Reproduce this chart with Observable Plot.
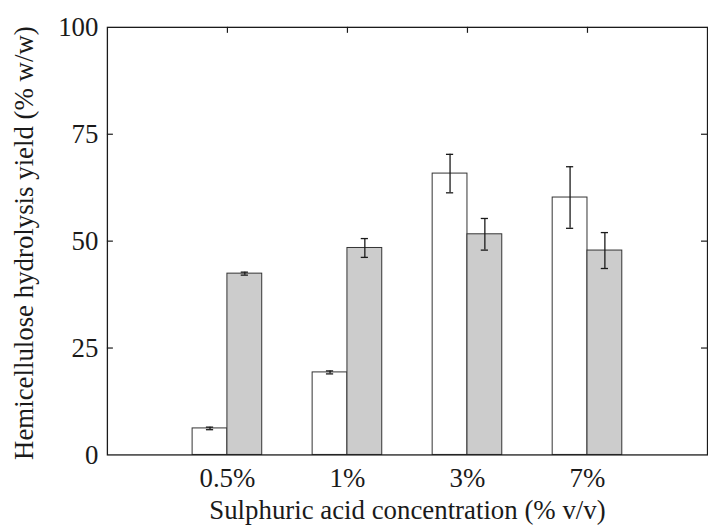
<!DOCTYPE html>
<html>
<head>
<meta charset="utf-8">
<script src="https://cdn.jsdelivr.net/npm/d3@7"></script>
<script src="https://cdn.jsdelivr.net/npm/@observablehq/plot@0.6"></script>
<style>
  html, body { margin: 0; padding: 0; background: #fff; overflow: hidden; }
  #chart { width: 708px; height: 531px; overflow: hidden; }
  #chart svg, #chart svg text { font-family: "Liberation Serif", "Times New Roman", "DejaVu Serif", serif !important; }
</style>
</head>
<body>
<div id="chart"></div>
<script>
// ---- data ----
const categories = ["0.5%", "1%", "3%", "7%"];
const seriesA = [6.2, 19.3, 65.8, 60.2];   // white bars
const errA    = [0.3, 0.35, 4.5, 7.2];
const seriesB = [42.4, 48.4, 51.6, 47.8];  // grey bars
const errB    = [0.35, 2.2, 3.7, 4.2];
const yTicks = [0, 25, 50, 75, 100];
const xTitle = "Sulphuric acid concentration (% v/v)";
const yTitle = "Hemicellulose hydrolysis yield (% w/w)";

// ---- derived table ----
const barW = 0.29;   // bar width in group units
const capW = 0.03;   // half-width of error caps
const groups = categories.map((c, i) => ({cat: c, g: i + 1}));
const bars = [];
categories.forEach((c, i) => {
  const g = i + 1;
  bars.push({cat: c, s: "A", x1: g - barW, x2: g, xc: g - barW / 2, v: seriesA[i], e: errA[i]});
  bars.push({cat: c, s: "B", x1: g, x2: g + barW, xc: g + barW / 2, v: seriesB[i], e: errB[i]});
});
const inner = yTicks.filter(t => t > 0 && t < 100);
const font = "Liberation Serif";
const ink = "#1a1a1a";

const chart = Plot.plot({
  width: 712,
  height: 531,
  marginLeft: 107.5,
  marginRight: 1,
  marginTop: 27,
  marginBottom: 74,
  style: {fontFamily: font, color: ink, background: "#fff"},
  x: {domain: [0, 5], axis: null},
  y: {domain: [0, 100], axis: null},
  marks: [
    Plot.rect(bars, {
      x1: "x1", x2: "x2", y1: 0, y2: "v",
      fill: d => d.s === "A" ? "#ffffff" : "#cccccc",
      stroke: "#333", strokeWidth: 1
    }),
    // error bars
    Plot.ruleX(bars, {x: "xc", y1: d => d.v - d.e, y2: d => d.v + d.e, stroke: ink, strokeWidth: 1.3}),
    Plot.ruleY(bars, {y: d => d.v + d.e, x1: d => d.xc - capW, x2: d => d.xc + capW, stroke: ink, strokeWidth: 1.3}),
    Plot.ruleY(bars, {y: d => d.v - d.e, x1: d => d.xc - capW, x2: d => d.xc + capW, stroke: ink, strokeWidth: 1.3}),
    // frame
    Plot.frame({stroke: ink, strokeWidth: 1.3}),
    // inward ticks
    Plot.ruleY(inner, {y: d => d, x1: 0, x2: 0.05, stroke: ink, strokeWidth: 1.2}),
    Plot.ruleY(inner, {y: d => d, x1: 4.95, x2: 5, stroke: ink, strokeWidth: 1.2}),
    Plot.ruleX(groups, {x: "g", y1: 100, y2: 98.6, stroke: ink, strokeWidth: 1.2}),
    // y tick labels
    Plot.text(yTicks, {
      x: 0, y: d => d, text: d => String(d), textAnchor: "end", dx: -9,
      fontSize: 27, fontFamily: font, fill: ink, lineAnchor: "middle"
    }),
    // x tick labels
    Plot.text(groups, {
      x: "g", y: 0, text: "cat", dy: 24,
      fontSize: 27, fontFamily: font, fill: ink, lineAnchor: "middle"
    }),
    // axis titles
    Plot.text([xTitle], {
      frameAnchor: "bottom", text: d => d, dy: 56, textAnchor: "middle",
      fontSize: 27, fontFamily: font, fill: ink, lineAnchor: "middle"
    }),
    Plot.text([yTitle], {
      frameAnchor: "left", text: d => d, dx: -83, dy: 2, rotate: -90, textAnchor: "middle",
      fontSize: 27, fontFamily: font, fill: ink, lineAnchor: "middle"
    })
  ]
});
document.getElementById("chart").appendChild(chart);
</script>
</body>
</html>
